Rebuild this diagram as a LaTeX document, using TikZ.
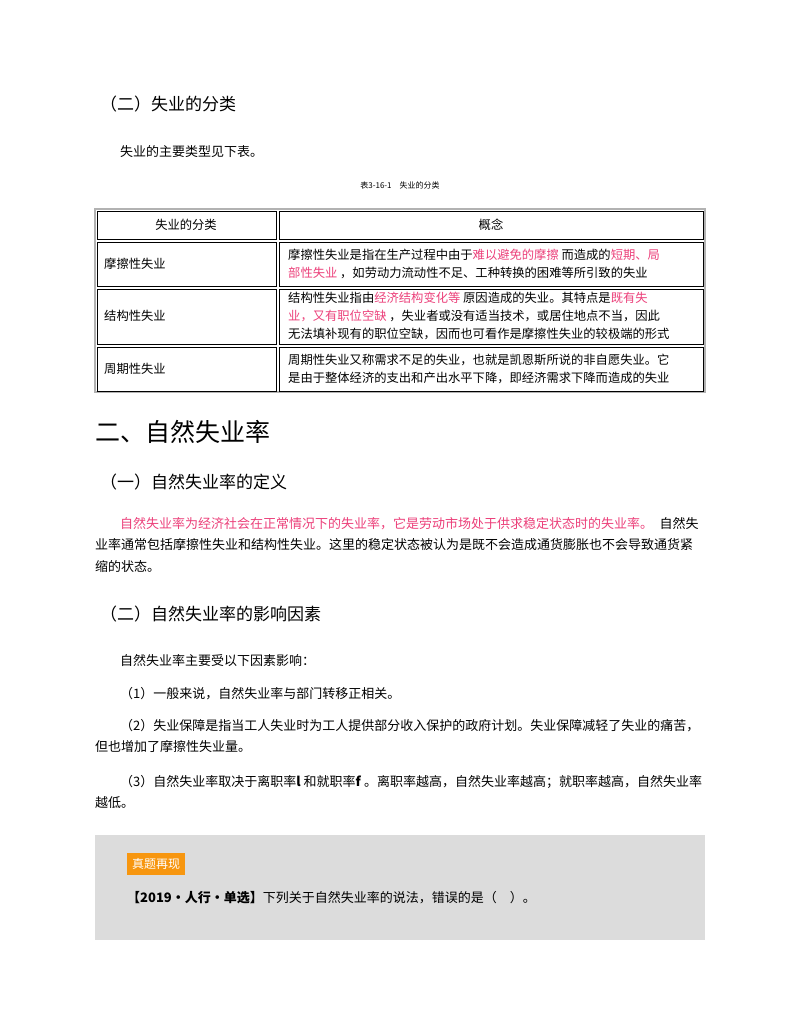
\documentclass[tikz,border=0pt]{standalone}
\usepackage{fontspec}
\setmainfont{Noto Sans CJK SC}
\definecolor{pinkt}{HTML}{EC407A}
\definecolor{boxg}{HTML}{DCDCDC}
\definecolor{orng}{HTML}{F7960F}
\begin{document}
\begin{tikzpicture}[x=1pt,y=-1pt,
  txt/.style={anchor=west,inner sep=0pt,font=\fontsize{13}{21.5}\selectfont},
  tcell/.style={anchor=west,inner sep=0pt,font=\fontsize{12.3}{18}\selectfont,align=left},
  cellbox/.style={draw=black,line width=0.8pt},
  hd/.style={anchor=west,inner sep=0pt,font=\fontsize{17}{20}\selectfont}]
\useasboundingbox (0,0) rectangle (800,1035);
\fill[white] (0,0) rectangle (800,1035);
\node[hd] (h1) at (100,104) {（二）失业的分类};
\node[txt] (p1) at (120,152) {失业的主要类型见下表。};
\node[inner sep=0pt,font=\fontsize{8}{10}\selectfont] (cap) at (400,185) {表3-16-1\quad 失业的分类};
% table
\draw[gray!60,line width=1.2pt] (95,209) rectangle (705,392);
\foreach \ya/\yb in {209/240,240/287,287/345,345/392}{
  \draw[cellbox] (97,\ya+2) rectangle (276,\yb-1);
  \draw[cellbox] (279,\ya+2) rectangle (703,\yb-1);
}
\node[tcell,anchor=center] (c11) at (186,225) {失业的分类};
\node[tcell,anchor=center] (c12) at (491,225) {概念};
\node[tcell] (c21) at (104,264) {摩擦性失业};
\node[tcell] (c31) at (104,316) {结构性失业};
\node[tcell] (c41) at (104,369) {周期性失业};
\node[tcell] (c22) at (288,264) {摩擦性失业是指在生产过程中由于\textcolor{pinkt}{难以避免的摩擦} 而造成的\textcolor{pinkt}{短期、局}\\\textcolor{pinkt}{部性失业} ，如劳动力流动性不足、工种转换的困难等所引致的失业};
\node[tcell] (c32) at (288,316) {结构性失业指由\textcolor{pinkt}{经济结构变化等} 原因造成的失业。其特点是\textcolor{pinkt}{既有失}\\\textcolor{pinkt}{业，又有职位空缺} ，失业者或没有适当技术，或居住地点不当，因此\\无法填补现有的职位空缺，因而也可看作是摩擦性失业的较极端的形式};
\node[tcell] (c42) at (288,369) {周期性失业又称需求不足的失业，也就是凯恩斯所说的非自愿失业。它\\是由于整体经济的支出和产出水平下降，即经济需求下降而造成的失业};
\node[anchor=west,inner sep=0pt,font=\fontsize{25}{28}\selectfont] (h2) at (95,432) {二、自然失业率};
\node[hd] (h3) at (100,482) {（一）自然失业率的定义};
\node[txt,anchor=north west,align=left] (p2) at (95,517) {\hspace*{25pt}\textcolor{pinkt}{自然失业率为经济社会在正常情况下的失业率，它是劳动市场处于供求稳定状态时的失业率。}\enspace 自然失\\业率通常包括摩擦性失业和结构性失业。这里的稳定状态被认为是既不会造成通货膨胀也不会导致通货紧\\缩的状态。};
\node[hd] (h4) at (100,614) {（二）自然失业率的影响因素};
\node[txt] (p3) at (120,661) {自然失业率主要受以下因素影响：};
\node[txt] (p4) at (120,694) {（1）一般来说，自然失业率与部门转移正相关。};
\node[txt,anchor=north west,align=left] (p5) at (95,719) {\hspace*{25pt}（2）失业保障是指当工人失业时为工人提供部分收入保护的政府计划。失业保障减轻了失业的痛苦，\\但也增加了摩擦性失业量。};
\node[txt,anchor=north west,align=left] (p6) at (95,775) {\hspace*{25pt}（3）自然失业率取决于离职率\textit{\textbf{l}} 和就职率\textit{\textbf{f}} 。离职率越高，自然失业率越高；就职率越高，自然失业率\\越低。};
\fill[boxg] (95,835) rectangle (705,940);
\node[fill=orng,text=white,inner sep=2pt,font=\fontsize{12}{14}\selectfont,minimum height=22pt,minimum width=58pt] (lab) at (156,864) {真题再现};
\node[txt] (q) at (127,898) {\textbf{【2019·人行·单选】}下列关于自然失业率的说法，错误的是（\quad ）。};
\end{tikzpicture}
\end{document}
